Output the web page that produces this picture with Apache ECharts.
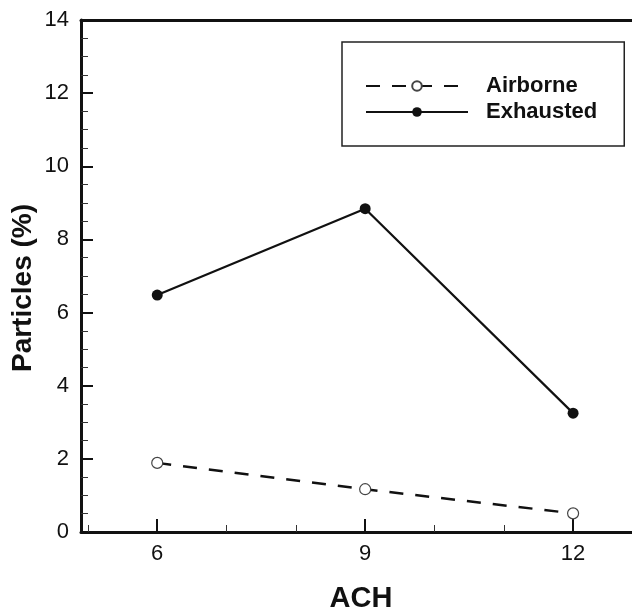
<!DOCTYPE html>
<html>
<head>
<meta charset="utf-8">
<script src="https://cdn.jsdelivr.net/npm/echarts@6/dist/echarts.min.js"></script>
<style>
  html, body { margin: 0; padding: 0; background: #fff; }
  #chart { width: 632px; height: 613px; }
</style>
</head>
<body>
<div id="chart"></div>
<script>
// Air changes per hour and particle fractions
const ach = [6, 9, 12];
const airborne = [1.89, 1.17, 0.51];
const exhausted = [6.48, 8.84, 3.25];
const xMajorTicks = [6, 9, 12];
const xMinorTicks = [5, 7, 8, 10, 11];

const ink = '#111';
const font = 'Liberation Sans, Arial, Helvetica, sans-serif';

const pairs = (xs, ys) => xs.map((x, i) => [x, ys[i]]);

const chart = echarts.init(document.getElementById('chart'));
chart.setOption({
  backgroundColor: '#fff',
  animation: false,
  grid: { left: 81, right: 0, top: 20, bottom: 81, containLabel: false, outerBoundsMode: 'none' },
  legend: {
    orient: 'vertical',
    left: 342,
    top: 42,
    padding: [33, 27, 23, 23],
    itemGap: 4,
    itemWidth: 102,
    itemHeight: 12,
    borderColor: '#222',
    borderWidth: 1.5,
    textStyle: {
      fontFamily: font, fontWeight: 'bold', fontSize: 22, color: ink,
      lineHeight: 22, padding: [0, 0, 0, 13]
    },
    data: ['Airborne', 'Exhausted']
  },
  xAxis: [
    {
      type: 'value', min: 4.9, max: 12.85, position: 'bottom',
      name: 'ACH', nameLocation: 'middle', nameGap: 52, nameMoveOverlap: false,
      nameTextStyle: { fontFamily: font, fontWeight: 'bold', fontSize: 29, color: ink,
                       padding: [0, 0, 0, 9] },
      axisLine: { show: true, lineStyle: { color: ink, width: 3 } },
      axisTick: { show: true, inside: true, length: 13, customValues: xMajorTicks,
                  lineStyle: { color: ink, width: 2 } },
      axisLabel: { show: true, customValues: xMajorTicks, margin: 11,
                   fontFamily: font, fontSize: 22, color: ink },
      splitLine: { show: false }
    },
    {
      type: 'value', min: 4.9, max: 12.85, position: 'bottom',
      axisLine: { show: false },
      axisTick: { show: true, inside: true, length: 7, customValues: xMinorTicks,
                  lineStyle: { color: '#333', width: 1 } },
      axisLabel: { show: false },
      splitLine: { show: false }
    },
    {
      type: 'value', min: 4.9, max: 12.85, position: 'top',
      axisLine: { show: true, lineStyle: { color: ink, width: 3 } },
      axisTick: { show: false },
      axisLabel: { show: false },
      splitLine: { show: false }
    }
  ],
  yAxis: {
    type: 'value', min: 0, max: 14, interval: 2,
    name: 'Particles (%)', nameLocation: 'middle', nameGap: 44, nameMoveOverlap: false,
    nameTextStyle: { fontFamily: font, fontWeight: 'bold', fontSize: 28, color: ink,
                     padding: [0, 24, 0, 0] },
    axisLine: { show: true, lineStyle: { color: ink, width: 3 } },
    axisTick: { show: true, inside: true, length: 12, lineStyle: { color: ink, width: 2 } },
    minorTick: { show: true, splitNumber: 4, length: 7, lineStyle: { color: '#333', width: 1 } },
    axisLabel: { margin: 12, fontFamily: font, fontSize: 22, color: ink },
    splitLine: { show: false }
  },
  series: [
    {
      name: 'Airborne', type: 'line', xAxisIndex: 0,
      data: pairs(ach, airborne),
      symbol: 'circle', symbolSize: 11, showSymbol: true,
      lineStyle: { color: ink, width: 2.5, type: [14, 12] },
      itemStyle: { color: '#fff', borderColor: '#444', borderWidth: 1.2 },
      z: 3
    },
    {
      name: 'Exhausted', type: 'line', xAxisIndex: 0,
      data: pairs(ach, exhausted),
      symbol: 'circle', symbolSize: 11, showSymbol: true,
      lineStyle: { color: ink, width: 2.2 },
      itemStyle: { color: ink, borderColor: ink, borderWidth: 0 },
      z: 3
    }
  ]
});
</script>
</body>
</html>
